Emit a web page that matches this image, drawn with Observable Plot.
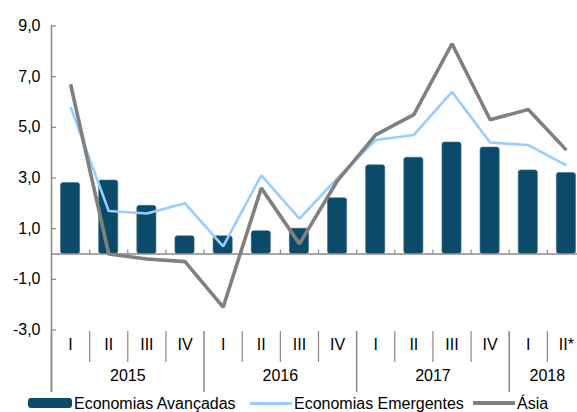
<!DOCTYPE html>
<html><head><meta charset="utf-8">
<script src="https://cdn.jsdelivr.net/npm/d3@7"></script>
<script src="https://cdn.jsdelivr.net/npm/@observablehq/plot@0.6"></script>
<style>
html,body{margin:0;padding:0;background:#fff;overflow:hidden;width:577px;height:412px;font-family:"Liberation Sans",Arial,sans-serif;}
#title{position:absolute;left:215px;top:-21px;font-size:19px;white-space:nowrap;color:#000;line-height:22px;}
#chart{position:absolute;left:0;top:0;}
#legend{position:absolute;left:0;top:395px;width:577px;height:17px;font-size:16px;color:#000;}
.item{position:absolute;top:0;height:17px;line-height:17px;white-space:nowrap;}
.sw{display:inline-block;vertical-align:middle;margin-right:2px;}
</style></head>
<body>
<div id="title">(taxa anualizada, em %)</div>
<div id="chart"></div>
<div id="legend">
  <div class="item" style="left:28px"><span class="sw" style="width:44px;height:10px;background:#0c4a6a;border-radius:3px;margin-top:-3px"></span>Economias Avançadas</div>
  <div class="item" style="left:250px"><span class="sw" style="width:42px;height:2.5px;background:#99ccff;margin-top:-3px"></span>Economias Emergentes</div>
  <div class="item" style="left:473px"><span class="sw" style="width:42px;height:4px;background:#808080;margin-top:-3px"></span>Ásia</div>
</div>
<script>
const quarters = ["I","II","III","IV","I","II","III","IV","I","II","III","IV","I","II*"];
const years = ["2015","2016","2017","2018"];
const quartersPerYear = [4,4,4,2];
const avancadas = [2.8,2.9,1.9,0.7,0.7,0.9,1.0,2.2,3.5,3.8,4.4,4.2,3.3,3.2];
const emergentes = [5.8,1.7,1.6,2.0,0.3,3.1,1.4,3.0,4.5,4.7,6.4,4.4,4.3,3.5];
const asia = [6.7,0.0,-0.2,-0.3,-2.1,2.6,0.4,2.9,4.7,5.5,8.3,5.3,5.7,4.1];
const yTicks = [-3,-1,1,3,5,7,9];

const rows = quarters.map((q, i) => ({i, q, av: avancadas[i], em: emergentes[i], as: asia[i]}));
const yearRows = [];
let start = 0;
years.forEach((y, k) => {
  const n = quartersPerYear[k];
  yearRows.push({year: y, center: start + (n - 1) / 2, end: start + n - 0.5});
  start += n;
});
const yearEnds = yearRows.map(d => d.end);
const inner = d3.range(quarters.length - 1).map(i => i + 0.5);
const quarterSeps = inner.filter(x => !yearEnds.includes(x));
const yearSeps = [-0.5, ...inner.filter(x => yearEnds.includes(x))];
const fmt = d => d.toFixed(1).replace(".", ",");
const grey = "#888888";

const chart = Plot.plot({
  width: 577,
  height: 393,
  marginLeft: 51,
  marginRight: -8,
  marginTop: 25,
  marginBottom: 1,
  style: {fontFamily: "'Liberation Sans', Arial, sans-serif", fontSize: "16px", background: "transparent", overflow: "visible"},
  x: {type: "linear", domain: [-0.5, quarters.length - 0.5], axis: null},
  y: {domain: [-3, 9], range: [329.5, 25.5], axis: null},
  marks: [
    Plot.rectY(rows, {x1: d => d.i - 0.5, x2: d => d.i + 0.5, y1: 0, y2: "av", fill: "#0c4a6a", stroke: "#3d6f8c", strokeWidth: 0.6, insetLeft: 9.5, insetRight: 9.5, rx: 2.5}),
    Plot.ruleY([0], {stroke: grey, strokeWidth: 1.5}),
    Plot.ruleX(inner, {x: d => d, y1: 0, y2: 0, insetBottom: 4, stroke: grey, strokeWidth: 1.2}),
    Plot.line(rows, {x: "i", y: "em", stroke: "#99ccff", strokeWidth: 2.6, strokeLinejoin: "miter", strokeLinecap: "butt"}),
    Plot.line(rows, {x: "i", y: "as", stroke: "#808080", strokeWidth: 3.6, strokeLinejoin: "miter", strokeLinecap: "butt"}),
    Plot.ruleX(yearSeps, {x: d => d, stroke: grey, strokeWidth: 1.5, insetTop: 306}),
    Plot.ruleX([-0.5], {x: d => d, stroke: grey, strokeWidth: 1.5}),
    Plot.ruleX(quarterSeps, {x: d => d, stroke: grey, strokeWidth: 1.2, insetTop: 306, insetBottom: 30}),
    Plot.axisY({ticks: yTicks, tickSize: -5, tickFormat: () => "", stroke: grey, strokeWidth: 1.2, strokeOpacity: 1}),
    Plot.axisY({ticks: yTicks, tickSize: 0, tickPadding: 11, tickFormat: fmt, fill: "#000", fontSize: 16}),
    Plot.text(rows, {x: "i", text: "q", frameAnchor: "bottom", dy: -43, fill: "#000", fontSize: 16}),
    Plot.text(yearRows, {x: "center", text: "year", frameAnchor: "bottom", dy: -12, fill: "#000", fontSize: 16})
  ]
});
document.getElementById("chart").appendChild(chart);
</script>
</body></html>
